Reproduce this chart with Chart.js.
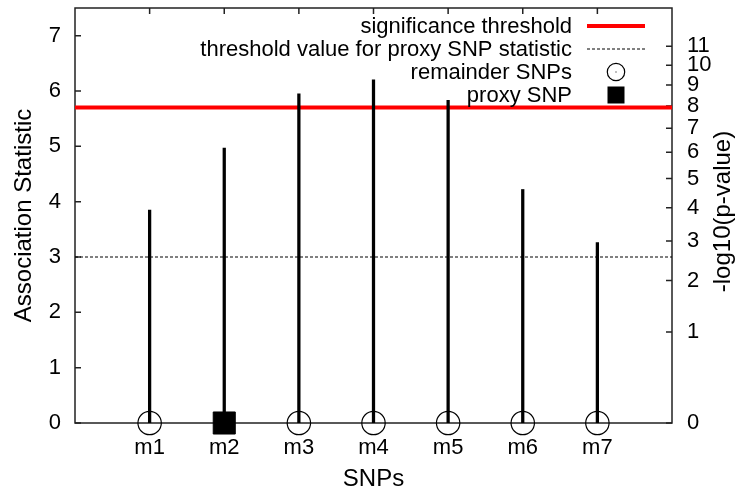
<!DOCTYPE html>
<html>
<head>
<meta charset="utf-8">
<title>SNP association</title>
<script src="https://cdn.jsdelivr.net/npm/chart.js@4/dist/chart.umd.min.js"></script>
<style>
  html, body { margin: 0; padding: 0; background: #fff; }
  canvas { display: block; }
</style>
</head>
<body>
<canvas id="snpChart" width="738" height="494"></canvas>
<script>
// markers and their association statistic
const snps = ['m1', 'm2', 'm3', 'm4', 'm5', 'm6', 'm7'];
const assocStat = [3.85, 4.97, 5.95, 6.2, 5.83, 4.22, 3.26];
const proxySnp = 'm2';

// horizontal thresholds (association statistic units)
const sigThreshold = 5.7;
const proxyThreshold = 3.0;

// right axis: -log10(p) labels and the statistic each one sits at
const log10pLabels = [0, 1, 2, 3, 4, 5, 6, 7, 8, 9, 10, 11];
const log10pStat = [0, 1.645, 2.576, 3.291, 3.891, 4.417, 4.892, 5.327, 5.731, 6.109, 6.467, 6.807];

const FONT = "'Liberation Sans', Arial, Helvetica, sans-serif";
Chart.defaults.font.family = FONT;
Chart.defaults.color = '#000';

const xPos = snps.map((s, i) => i + 1);
const remainderPts = snps.map((s, i) => ({x: xPos[i], y: 0})).filter((p, i) => snps[i] !== proxySnp);
const proxyPts = snps.map((s, i) => ({x: xPos[i], y: 0})).filter((p, i) => snps[i] === proxySnp);
const y2Title = '-log10(p-value)';

// box round the plot + gnuplot style inward ticks
const frame = {
  id: 'frame',
  beforeDatasetsDraw(chart) {
    const {ctx, chartArea: a, scales} = chart;
    const len = 6;
    ctx.save();
    ctx.strokeStyle = '#222';
    ctx.lineWidth = 1.5;
    ctx.beginPath();
    scales.y.ticks.forEach(t => {
      const p = scales.y.getPixelForValue(t.value);
      ctx.moveTo(a.left, p); ctx.lineTo(a.left + len, p);
    });
    scales.y2.ticks.forEach(t => {
      const p = scales.y2.getPixelForValue(t.value);
      ctx.moveTo(a.right, p); ctx.lineTo(a.right - len, p);
    });
    scales.x.ticks.forEach(t => {
      if (t.value <= scales.x.min || t.value >= scales.x.max) return;
      const p = scales.x.getPixelForValue(t.value);
      ctx.moveTo(p, a.top); ctx.lineTo(p, a.top + len);
      ctx.moveTo(p, a.bottom); ctx.lineTo(p, a.bottom - len);
    });
    ctx.stroke();
    ctx.strokeRect(a.left, a.top, a.width, a.height);
    ctx.restore();
  },
  // y2 label reads bottom to top, like the left one
  afterDraw(chart) {
    const {ctx, chartArea: a} = chart;
    ctx.save();
    ctx.font = '24px ' + FONT;
    ctx.fillStyle = '#000';
    ctx.textAlign = 'center';
    ctx.textBaseline = 'middle';
    ctx.translate(chart.width - 15, (a.top + a.bottom) / 2 - 4);
    ctx.rotate(-Math.PI / 2);
    ctx.fillText(y2Title, 0, 0);
    ctx.restore();
  }
};

// key in the top right corner, text right aligned with the sample after it
const key = {
  id: 'key',
  afterDatasetsDraw(chart) {
    const {ctx, chartArea: a} = chart;
    const textRight = a.right - 100;
    const x0 = a.right - 85, x1 = a.right - 27, xc = (x0 + x1) / 2;
    ctx.save();
    ctx.font = '22px ' + FONT;
    ctx.textAlign = 'right';
    ctx.textBaseline = 'alphabetic';
    chart.data.datasets
      .filter(d => d.keyRow !== undefined)
      .sort((p, q) => p.keyRow - q.keyRow)
      .forEach(d => {
        const y = a.top + 18 + d.keyRow * 23;
        ctx.fillStyle = '#000';
        ctx.fillText(d.label, textRight, y + 7);
        if (d.showLine === false) {
          ctx.strokeStyle = '#000';
          ctx.lineWidth = d.pointBorderWidth;
          if (d.pointStyle === 'rect') {
            ctx.fillStyle = d.pointBackgroundColor;
            ctx.fillRect(xc - 8.5, y - 8.5, 17, 17);
          } else {
            ctx.beginPath();
            ctx.arc(xc, y, 8.7, 0, Math.PI * 2);
            ctx.stroke();
            ctx.fillRect(xc - 0.5, y - 0.5, 1, 1);
          }
        } else {
          ctx.strokeStyle = d.borderColor;
          ctx.lineWidth = d.borderWidth;
          ctx.setLineDash(d.borderDash || []);
          ctx.beginPath();
          ctx.moveTo(x0, y); ctx.lineTo(x1, y);
          ctx.stroke();
          ctx.setLineDash([]);
        }
      });
    ctx.restore();
  }
};

new Chart(document.getElementById('snpChart'), {
  type: 'bar',
  data: {
    datasets: [{
      type: 'line',
      label: 'proxy SNP',
      keyRow: 3,
      data: proxyPts,
      showLine: false,
      pointStyle: 'rect',
      pointRadius: 15.6,
      pointBackgroundColor: '#000',
      pointBorderColor: '#000',
      pointBorderWidth: 1,
      clip: false,
      order: 0
    }, {
      type: 'line',
      label: 'remainder SNPs',
      keyRow: 2,
      data: remainderPts,
      showLine: false,
      pointStyle: 'circle',
      pointRadius: 11.7,
      pointBackgroundColor: 'rgba(0,0,0,0)',
      pointBorderColor: '#000',
      pointBorderWidth: 1.2,
      clip: false,
      order: 1
    }, {
      label: 'stems',
      data: snps.map((s, i) => ({x: xPos[i], y: assocStat[i]})),
      backgroundColor: '#000',
      barThickness: 2.6,
      order: 2
    }, {
      type: 'line',
      label: 'significance threshold',
      keyRow: 0,
      data: [{x: 0, y: sigThreshold}, {x: snps.length + 1, y: sigThreshold}],
      borderColor: '#ff0000',
      borderWidth: 4,
      pointRadius: 0,
      order: 3
    }, {
      type: 'line',
      label: 'threshold value for proxy SNP statistic',
      keyRow: 1,
      data: [{x: 0, y: proxyThreshold}, {x: snps.length + 1, y: proxyThreshold}],
      borderColor: '#000',
      borderWidth: 1,
      borderDash: [3, 2],
      pointRadius: 0,
      order: 4
    }]
  },
  options: {
    responsive: false,
    devicePixelRatio: 1,
    animation: false,
    events: [],
    layout: {autoPadding: false, padding: {top: 8, left: 0, right: 0, bottom: 0}},
    plugins: {legend: {display: false}, tooltip: {enabled: false}},
    scales: {
      x: {
        type: 'linear',
        min: 0,
        max: snps.length + 1,
        offset: false,
        grid: {display: false, drawTicks: false},
        border: {display: false},
        ticks: {
          stepSize: 1,
          autoSkip: false,
          maxRotation: 0,
          padding: 12,
          font: {size: 22},
          callback: v => snps[v - 1] || ''
        },
        title: {display: true, text: 'SNPs', font: {size: 24}, padding: {top: 0, bottom: 0}},
        afterFit: s => { s.height = 71; s.paddingLeft = 0; s.paddingRight = 0; }
      },
      y: {
        min: 0,
        max: 7.5,
        grid: {display: false, drawTicks: false},
        border: {display: false},
        ticks: {stepSize: 1, includeBounds: false, padding: 14, font: {size: 22}},
        title: {display: true, text: 'Association Statistic', font: {size: 24}, padding: {top: 10, bottom: 0}},
        afterFit: s => { s.width = 75; s.paddingTop = 0; s.paddingBottom = 0; }
      },
      y2: {
        position: 'right',
        min: 0,
        max: 7.5,
        grid: {display: false, drawTicks: false},
        border: {display: false},
        afterBuildTicks: s => { s.ticks = log10pStat.map(v => ({value: v})); },
        ticks: {autoSkip: false, padding: 15, font: {size: 22}, callback: (v, i) => log10pLabels[i]},
        afterFit: s => { s.width = 66; s.paddingTop = 0; s.paddingBottom = 0; }
      }
    }
  },
  plugins: [frame, key]
});
</script>
</body>
</html>
